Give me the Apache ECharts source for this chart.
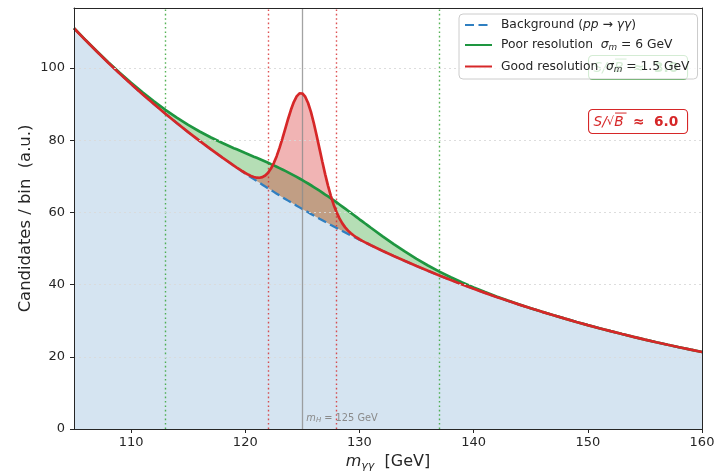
<!DOCTYPE html>
<html><head><meta charset="utf-8">
<script src="https://cdn.jsdelivr.net/npm/echarts@6/dist/echarts.min.js"></script>
<style>html,body{margin:0;padding:0;background:#fff}#c{width:716px;height:472px}</style>
</head><body><div id="c"></div>
<script>
// ---- data ----
const massGrid = [
  105,106,107,108,109,110,111,112,113,114,115,116,117,118,
  119,119.25,119.5,119.75,120,120.25,120.5,120.75,121,121.25,121.5,121.75,
  122,122.25,122.5,122.75,123,123.25,123.5,123.75,124,124.25,124.5,124.75,
  125,125.25,125.5,125.75,126,126.25,126.5,126.75,127,127.25,127.5,127.75,
  128,128.25,128.5,128.75,129,129.25,129.5,129.75,130,130.25,130.5,130.75,131,
  132,133,134,135,136,137,138,139,140,141,142,143,144,145,146,147,148,149,150,
  151,152,153,154,155,156,157,158,159,160
];
const background = [
  111.00,107.72,104.54,101.45,98.46,95.55,92.73,89.99,87.33,84.75,82.23,79.80,77.44,75.15,
  72.93,72.39,71.85,71.31,70.78,70.25,69.73,69.21,68.69,68.18,67.67,67.16,
  66.66,66.16,65.67,65.18,64.69,64.21,63.73,63.25,62.78,62.31,61.84,61.38,
  60.92,60.47,60.02,59.57,59.12,58.68,58.24,57.81,57.37,56.95,56.52,56.10,
  55.68,55.26,54.85,54.44,54.03,53.63,53.23,52.83,52.43,52.04,51.65,51.27,50.88,
  49.38,47.92,46.50,45.13,43.80,42.50,41.25,40.03,38.84,37.70,36.58,35.50,34.45,33.43,32.45,31.49,30.56,29.65,28.78,
  27.92,27.10,26.30,25.52,24.77,24.04,23.33,22.64,21.97,21.32
];
const poorResolution = [
  111.03,107.77,104.63,101.59,98.69,95.90,93.26,90.76,88.41,86.24,84.23,82.40,80.73,79.20,
  77.78,77.45,77.11,76.77,76.43,76.10,75.77,75.43,75.10,74.76,74.42,74.07,
  73.72,73.36,73.01,72.64,72.26,71.88,71.48,71.08,70.67,70.25,69.81,69.37,
  68.92,68.46,67.99,67.51,67.01,66.51,65.99,65.48,64.94,64.41,63.86,63.30,
  62.74,62.17,61.60,61.02,60.44,59.85,59.27,58.68,58.08,57.50,56.91,56.33,55.73,
  53.43,51.21,49.10,47.13,45.29,43.58,42.02,40.56,39.19,37.93,36.72,35.59,34.50,33.46,32.47,31.50,30.56,29.65,28.78,
  27.92,27.10,26.30,25.52,24.77,24.04,23.33,22.64,21.97,21.32
];
const goodResolution = [
  111.00,107.72,104.54,101.45,98.46,95.55,92.73,89.99,87.33,84.75,82.23,79.80,77.44,75.15,
  72.94,72.41,71.89,71.38,70.90,70.46,70.09,69.79,69.60,69.59,69.77,70.22,
  70.99,72.12,73.65,75.57,77.85,80.41,83.14,85.86,88.40,90.55,92.11,92.94,
  92.92,92.03,90.29,87.81,84.74,81.29,77.65,74.01,70.53,67.34,64.50,62.06,
  60.01,58.32,56.95,55.85,54.94,54.21,53.59,53.04,52.55,52.11,51.69,51.29,50.89,
  49.38,47.92,46.50,45.13,43.80,42.50,41.25,40.03,38.84,37.70,36.58,35.50,34.45,33.43,32.45,31.49,30.56,29.65,28.78,
  27.92,27.10,26.30,25.52,24.77,24.04,23.33,22.64,21.97,21.32
];
const xTicks = [110,120,130,140,150,160];
const yTicks = [0,20,40,60,80,100];
const poorWindow = [113,137];
const goodWindow = [122,128];
const higgsMass = 125;
const poorSignificance = '3.0';
const goodSignificance = '6.0';

// ---- chart ----
const FONT = 'DejaVu Sans';
const GREEN = '#2ca02c', RED = '#d62728', INK = '#262626';
const pairs = ys => massGrid.map((x, i) => [x, ys[i]]);

const chart = echarts.init(document.getElementById('c'), null, {renderer: 'canvas'});

const legendText = {
  bkg: ' {t|Background (}{i|pp}{t| → }{i|γγ}{t|)}',
  poor: ' {t|Poor resolution  }{i|σ}{s|m}{t| = 6 GeV}',
  good: ' {t|Good resolution  }{i|σ}{s|m}{t| = 1.5 GeV}'
};
const lg = 12.3;
const hidden = {show: false};

const vlines = [];
poorWindow.forEach(v => vlines.push({xAxis: v, lineStyle: {color: GREEN, type: [1.6, 2.8], width: 1.4, opacity: 0.8}}));
goodWindow.forEach(v => vlines.push({xAxis: v, lineStyle: {color: RED, type: [1.6, 2.8], width: 1.4, opacity: 0.8}}));
vlines.push({xAxis: higgsMass, lineStyle: {color: '#8c8c8c', type: 'solid', width: 1.3, opacity: 0.8}});

chart.setOption({
  animation: false,
  textStyle: {fontFamily: FONT},
  grid: {left: 74, right: 14, top: 8, bottom: 43, containLabel: false, outerBoundsMode: 'none'},
  xAxis: [{
    type: 'value', min: 105, max: 160, z: 10,
    axisLine: {show: true, onZero: false, lineStyle: {color: INK, width: 1}},
    axisTick: {show: true, length: 4, customValues: xTicks, lineStyle: {color: INK}},
    axisLabel: {customValues: xTicks, color: INK, fontSize: 13, fontFamily: FONT, margin: 7},
    splitLine: {show: false},
    name: '{i|m}{s|γγ}{t|  [GeV]}', nameLocation: 'middle', nameGap: 22,
    nameTextStyle: {rich: {
      i: {fontFamily: FONT, fontStyle: 'italic', fontSize: 16, color: INK, lineHeight: 19},
      s: {fontFamily: FONT, fontStyle: 'italic', fontSize: 11, color: INK, lineHeight: 10, verticalAlign: 'bottom'},
      t: {fontFamily: FONT, fontSize: 16, color: INK, lineHeight: 19}
    }}
  }, {
    type: 'value', min: 105, max: 160, position: 'top', z: 10,
    axisLine: {show: true, onZero: false, lineStyle: {color: INK, width: 1}},
    axisTick: hidden, axisLabel: hidden, splitLine: hidden
  }],
  yAxis: [{
    type: 'value', min: 0, max: 116.6, interval: 20, z: 10,
    axisLine: {show: true, onZero: false, lineStyle: {color: INK, width: 1}},
    axisTick: {show: true, length: 4, customValues: yTicks, lineStyle: {color: INK}},
    axisLabel: {customValues: yTicks, color: INK, fontSize: 13, fontFamily: FONT, margin: 9},
    splitLine: {show: true, lineStyle: {color: '#d9d9d9', type: [2, 3], width: 0.9}},
    name: 'Candidates / bin  (a.u.)', nameLocation: 'middle', nameGap: 40, nameMoveOverlap: false,
    nameTextStyle: {fontFamily: FONT, fontSize: 16.4, color: INK}
  }, {
    type: 'value', min: 0, max: 116.6, position: 'right', z: 10,
    axisLine: {show: true, onZero: false, lineStyle: {color: INK, width: 1}},
    axisTick: hidden, axisLabel: hidden, splitLine: hidden
  }],
  legend: {
    data: ['bkg', 'poor', 'good'],
    orient: 'vertical', left: 459, top: 14,
    itemWidth: 27, itemHeight: 12, itemGap: 8,
    padding: [5, 8, 5, 5],
    backgroundColor: 'rgba(255,255,255,0.8)', borderColor: '#cccccc', borderWidth: 1, borderRadius: 4,
    z: 20, selectedMode: false,
    itemStyle: {opacity: 0},
    formatter: name => legendText[name],
    textStyle: {fontFamily: FONT, fontSize: lg, color: INK, rich: {
      t: {fontFamily: FONT, fontSize: lg, color: INK, lineHeight: 15},
      i: {fontFamily: FONT, fontStyle: 'italic', fontSize: lg, color: INK, lineHeight: 15},
      s: {fontFamily: FONT, fontStyle: 'italic', fontSize: 8.8, color: INK, lineHeight: 9, verticalAlign: 'bottom'}
    }}
  },
  series: [
    // fills: poor band (green), good band (red, translucent), background (blue, opaque) on top
    {type: 'line', name: 'poorFill', data: pairs(poorResolution), symbol: 'none', silent: true,
     lineStyle: {width: 0, opacity: 0}, areaStyle: {color: '#b5deb5', opacity: 1}, z: 1},
    {type: 'line', name: 'goodFill', data: pairs(goodResolution), symbol: 'none', silent: true,
     lineStyle: {width: 0, opacity: 0}, areaStyle: {color: RED, opacity: 0.35}, z: 1},
    {type: 'line', name: 'bkgFill', data: pairs(background), symbol: 'none', silent: true,
     lineStyle: {width: 0, opacity: 0}, areaStyle: {color: '#d5e4f1', opacity: 1}, z: 1,
     markLine: {silent: true, symbol: ['none', 'none'], label: {show: false}, data: vlines}},
    {type: 'line', name: 'bkg', data: pairs(background), symbol: 'none', silent: true,
     lineStyle: {color: '#2f7fc1', width: 2.3, type: [9, 4.5]}, itemStyle: {color: '#2f7fc1'}, z: 4},
    {type: 'line', name: 'poor', data: pairs(poorResolution), symbol: 'none', silent: true,
     lineStyle: {color: '#1e9640', width: 2.7}, itemStyle: {color: '#1e9640'}, z: 5},
    {type: 'line', name: 'good', data: pairs(goodResolution), symbol: 'none', silent: true,
     lineStyle: {color: RED, width: 2.7}, itemStyle: {color: RED}, z: 6}
  ]
});

// annotations
const p = chart.convertToPixel({gridIndex: 0}, [higgsMass, 0]);
function sigBox(top, color, value, z) {
  return {
    type: 'group', left: 588, top: top, z: z,
    children: [
      {type: 'rect', shape: {x: 0, y: 0, width: 99, height: 24, r: 4},
       style: {fill: '#ffffff', stroke: color, lineWidth: 1.1}},
      {type: 'text', x: 5, y: 12.5, style: {
        text: '{i|S/}{r|√}{i|B}{b|  ≈  ' + value + '}', verticalAlign: 'middle', align: 'left',
        rich: {
          i: {fontFamily: FONT, fontStyle: 'italic', fontSize: 13.7, fill: color},
          r: {fontFamily: FONT, fontSize: 11.5, fill: color},
          b: {fontFamily: FONT, fontWeight: 'bold', fontSize: 13.7, fill: color}
        }}},
      {type: 'line', shape: {x1: 26.5, y1: 3.5, x2: 38, y2: 3.5}, style: {stroke: color, lineWidth: 1}}
    ]
  };
}
chart.setOption({
  graphic: [
    sigBox(55, GREEN, poorSignificance, 10),
    sigBox(109, RED, goodSignificance, 10),
    {type: 'text', x: p[0] + 4, y: p[1] - 5, z: 10, style: {
      text: '{i|m}{s|H}{t| = 125 GeV}', verticalAlign: 'bottom', align: 'left',
      rich: {
        i: {fontFamily: FONT, fontStyle: 'italic', fontSize: 9.8, fill: '#8a8a8a', lineHeight: 12},
        s: {fontFamily: FONT, fontStyle: 'italic', fontSize: 7, fill: '#8a8a8a', lineHeight: 7, verticalAlign: 'bottom'},
        t: {fontFamily: FONT, fontSize: 9.8, fill: '#8a8a8a', lineHeight: 12}
      }}}
  ]
});
</script></body></html>
